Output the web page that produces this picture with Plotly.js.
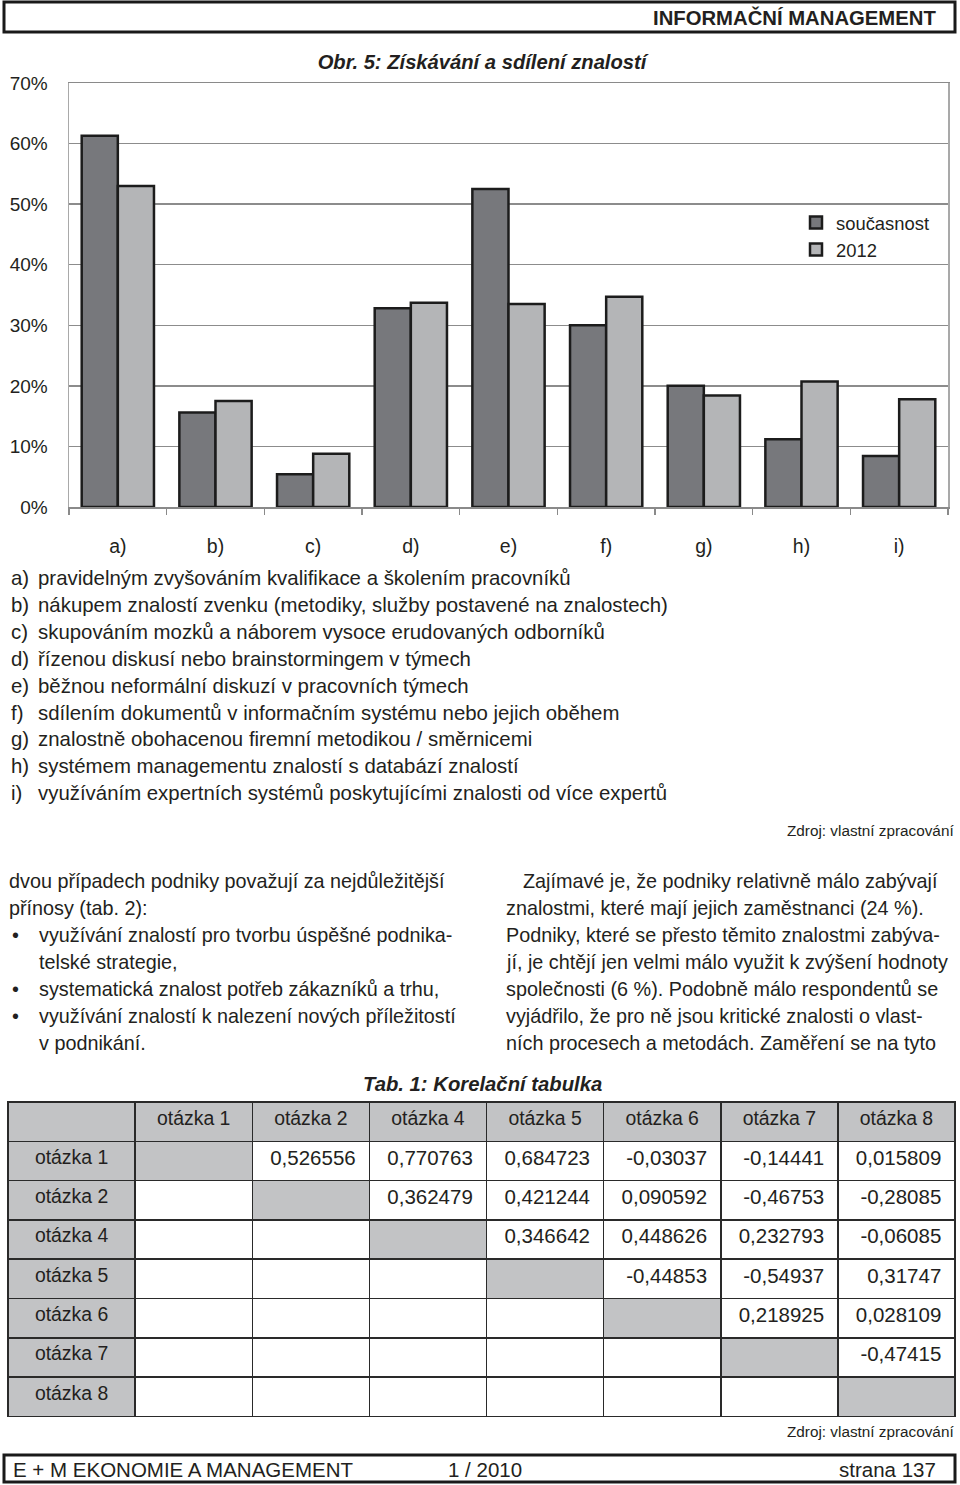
<!DOCTYPE html>
<html><head><meta charset="utf-8">
<script src="https://cdn.plot.ly/plotly-3.0.1.min.js"></script>
<style>html,body{margin:0;padding:0;background:#fff}#chart{width:960px;height:1485px}</style>
</head><body><div id="chart"></div>
<script>
// ---- chart data ----
const categories = ['a)','b)','c)','d)','e)','f)','g)','h)','i)'];
const seriesNames = ['současnost','2012'];
const valuesNow = [61.3,15.6,5.4,32.8,52.5,30.0,20.0,11.2,8.4];
const values2012 = [53.0,17.5,8.8,33.7,33.5,34.7,18.4,20.7,17.8];
const yTickVals = [0,10,20,30,40,50,60,70];
const yTickText = ['0%','10%','20%','30%','40%','50%','60%','70%'];

const descriptions = [
  'pravidelným zvyšováním kvalifikace a školením pracovníků',
  'nákupem znalostí zvenku (metodiky, služby postavené na znalostech)',
  'skupováním mozků a náborem vysoce erudovaných odborníků',
  'řízenou diskusí nebo brainstormingem v týmech',
  'běžnou neformální diskuzí v pracovních týmech',
  'sdílením dokumentů v informačním systému nebo jejich oběhem',
  'znalostně obohacenou firemní metodikou / směrnicemi',
  'systémem managementu znalostí s databází znalostí',
  'využíváním expertních systémů poskytujícími znalosti od více expertů'
];

// ---- table data ----
const tableLabels = ['otázka 1','otázka 2','otázka 4','otázka 5','otázka 6','otázka 7','otázka 8'];
const rowQ1 = [null,0.526556,0.770763,0.684723,-0.03037,-0.14441,0.015809];
const rowQ2 = [null,null,0.362479,0.421244,0.090592,-0.46753,-0.28085];
const rowQ4 = [null,null,null,0.346642,0.448626,0.232793,-0.06085];
const rowQ5 = [null,null,null,null,-0.44853,-0.54937,0.31747];
const rowQ6 = [null,null,null,null,null,0.218925,0.028109];
const rowQ7 = [null,null,null,null,null,null,-0.47415];
const rowQ8 = [null,null,null,null,null,null,null];
const corrRows = [rowQ1,rowQ2,rowQ4,rowQ5,rowQ6,rowQ7,rowQ8];

// ---- text ----
const headerText = 'INFORMAČNÍ MANAGEMENT';
const chartTitle = 'Obr. 5: Získávání a sdílení znalostí';
const sourceText = 'Zdroj: vlastní zpracování';
const tableTitle = 'Tab. 1: Korelační tabulka';
const leftColumn = [
  'dvou případech podniky považují za nejdůležitější',
  'přínosy (tab. 2):'
];
const bulletLines = [
  ['•','využívání znalostí pro tvorbu úspěšné podnika-'],
  ['','telské strategie,'],
  ['•','systematická znalost potřeb zákazníků a trhu,'],
  ['•','využívání znalostí k nalezení nových příležitostí'],
  ['','v podnikání.']
];
const rightColumn = [
  'Zajímavé je, že podniky relativně málo zabývají',
  'znalostmi, které mají jejich zaměstnanci (24 %).',
  'Podniky, které se přesto těmito znalostmi zabýva-',
  'jí, je chtějí jen velmi málo využit k zvýšení hodnoty',
  'společnosti (6 %). Podobně málo respondentů se',
  'vyjádřilo, že pro ně jsou kritické znalosti o vlast-',
  'ních procesech a metodách. Zaměření se na tyto'
];
const footerLeft = 'E + M EKONOMIE A MANAGEMENT';
const footerMid = '1 / 2010';
const footerRight = 'strana 137';

// ---- helpers ----
const W = 960, H = 1485;
const px = x => x / W;
const py = y => 1 - y / H;
const SANS = 'Liberation Sans, Arial, Helvetica, sans-serif';
const TXT = '#231f20';

function note(text, x, y, opts) {
  return Object.assign({
    text: text, xref: 'paper', yref: 'paper', x: px(x), y: py(y),
    xanchor: 'left', yanchor: 'middle', showarrow: false,
    font: {family: SANS, size: 19.8, color: TXT}
  }, opts || {});
}

const annotations = [];
annotations.push(note(headerText, 938, 18, {xanchor: 'right', font: {family: SANS, size: 20.3, color: TXT, weight: 'bold'}}));
descriptions.forEach((d, i) => {
  const y = 578 + i * 26.9;
  annotations.push(note(categories[i], 9, y, {font: {family: SANS, size: 20.4, color: TXT}}));
  annotations.push(note(d, 36, y, {font: {family: SANS, size: 20.4, color: TXT}}));
});
annotations.push(note(sourceText, 956, 830, {xanchor: 'right', font: {family: SANS, size: 15.3, color: TXT}}));
leftColumn.forEach((t, i) => annotations.push(note(t, 7, 881 + i * 27, {})));
bulletLines.forEach((b, i) => {
  const y = 935 + i * 27;
  if (b[0]) annotations.push(note(b[0], 10, y, {}));
  annotations.push(note(b[1], 37, y, {}));
});
rightColumn.forEach((t, i) => annotations.push(note(t, i === 0 ? 521 : 504, 881 + i * 27, {})));
annotations.push(note(tableTitle, 482, 1084, {xanchor: 'center', font: {family: SANS, size: 20.3, color: TXT, weight: 'bold', style: 'italic'}}));
annotations.push(note(sourceText, 956, 1431, {xanchor: 'right', font: {family: SANS, size: 15.3, color: TXT}}));
annotations.push(note(footerLeft, 11, 1469, {font: {family: SANS, size: 20.5, color: TXT}}));
annotations.push(note(footerMid, 446, 1469, {font: {family: SANS, size: 20.5, color: TXT}}));
annotations.push(note(footerRight, 938, 1469, {xanchor: 'right', font: {family: SANS, size: 20.5, color: TXT}}));

const shapes = [
  {type: 'rect', xref: 'paper', yref: 'paper', x0: px(4), x1: px(955), y0: py(2), y1: py(32), line: {color: '#1a1a1a', width: 3}, layer: 'above'},
  {type: 'rect', xref: 'paper', yref: 'paper', x0: px(4), x1: px(955), y0: py(1455), y1: py(1482), line: {color: '#1a1a1a', width: 3}, layer: 'above'}
];

// ---- traces ----
const barNow = {
  type: 'bar', name: seriesNames[0], x: categories, y: valuesNow,
  marker: {color: '#77787c', line: {color: '#1c1c1c', width: 2.5}}
};
const bar2012 = {
  type: 'bar', name: seriesNames[1], x: categories, y: values2012,
  marker: {color: '#b4b5b7', line: {color: '#1c1c1c', width: 2.5}}
};

const fmt = v => (v === null ? '' : String(v).replace('.', ',') + '\u00a0');
const colValues = [tableLabels];
const colFills = [tableLabels.map(() => '#c2c3c5')];
for (let c = 0; c < tableLabels.length; c++) {
  colValues.push(corrRows.map(r => fmt(r[c])));
  colFills.push(corrRows.map((r, ri) => (ri === c ? '#c2c3c5' : '#ffffff')));
}
const table = {
  type: 'table',
  domain: {x: [px(8), px(955)], y: [py(1418), py(1102)]},
  columnwidth: [127, 117, 117, 117, 117, 117, 117, 117],
  header: {
    values: [''].concat(tableLabels),
    fill: {color: '#c2c3c5'},
    line: {color: '#2a2a2a', width: 1.5},
    align: 'center', height: 39.3,
    font: {family: SANS, size: 19.4, color: TXT}
  },
  cells: {
    values: colValues,
    fill: {color: colFills},
    line: {color: '#2a2a2a', width: 1.5},
    align: ['center', 'right', 'right', 'right', 'right', 'right', 'right', 'right'],
    height: 39.3,
    font: {family: SANS, size: [19.4, 20.5, 20.5, 20.5, 20.5, 20.5, 20.5, 20.5], color: TXT}
  }
};

const layout = {
  width: W, height: H,
  margin: {l: 0, r: 0, t: 0, b: 0},
  paper_bgcolor: '#ffffff', plot_bgcolor: '#ffffff',
  title: {text: chartTitle, x: px(482), y: py(62), xanchor: 'center', yanchor: 'middle',
          font: {family: SANS, size: 20.2, color: TXT, weight: 'bold', style: 'italic'}},
  barmode: 'group', bargap: 0.26, bargroupgap: 0,
  showlegend: true,
  legend: {x: px(796), y: py(204), xanchor: 'left', yanchor: 'top', bgcolor: 'rgba(0,0,0,0)',
           font: {family: SANS, size: 18.4, color: TXT}, traceorder: 'normal', tracegroupgap: 0},
  xaxis: {
    domain: [px(69), px(948)], type: 'category',
    showline: true, linecolor: '#8a8a8a', linewidth: 1.5, mirror: true,
    ticks: 'outside', tickson: 'boundaries', ticklen: 6, tickcolor: '#8a8a8a', tickwidth: 1.3,
    ticklabelstandoff: 21, showgrid: false, fixedrange: true,
    tickfont: {family: SANS, size: 19.5, color: TXT}
  },
  yaxis: {
    domain: [py(507), py(83)], range: [0, 70],
    tickvals: yTickVals, ticktext: yTickText,
    showline: true, linecolor: '#a9a9a9', linewidth: 1.5, mirror: true,
    ticks: '', ticklabelstandoff: 16, zeroline: false,
    showgrid: true, gridcolor: '#8c8c8c', gridwidth: 1.3, fixedrange: true,
    tickfont: {family: SANS, size: 19, color: TXT}
  },
  annotations: annotations,
  shapes: shapes
};

Plotly.newPlot('chart', [barNow, bar2012, table], layout, {displayModeBar: false, staticPlot: true});
</script>
</body></html>
